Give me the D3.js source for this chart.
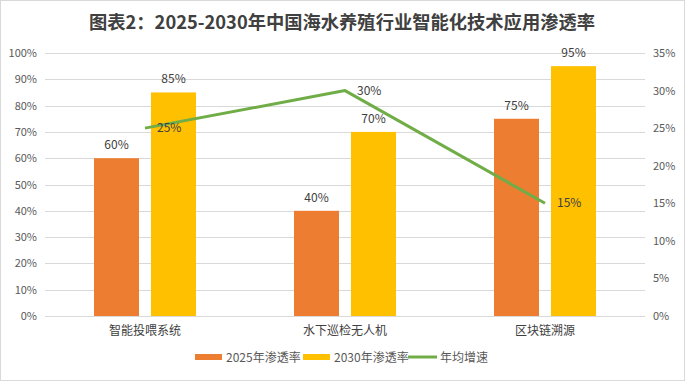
<!DOCTYPE html>
<html><head><meta charset="utf-8">
<script src="https://cdn.jsdelivr.net/npm/d3@7"></script>
<style>body{margin:0;background:#fff;}svg{display:block;font-family:"Noto Sans CJK SC","Microsoft YaHei",sans-serif;}</style>
</head><body>
<svg id="c" width="685" height="381"></svg>
<script>
const categories = ["智能投喂系统", "水下巡检无人机", "区块链溯源"];
const rate2025 = [60, 40, 75];
const rate2030 = [85, 70, 95];
const growth = [25, 30, 15];
const leftTicks = [0,10,20,30,40,50,60,70,80,90,100];
const rightTicks = [0,5,10,15,20,25,30,35];
const seriesNames = ["2025年渗透率", "2030年渗透率", "年均增速"];
const colors = ["#ED7D31", "#FFC000", "#70AD47"];

const svg = d3.select("#c");
svg.append("rect").attr("x",0.5).attr("y",0.5).attr("width",684).attr("height",380)
  .attr("fill","#fff").attr("stroke","#d9d9d9");

svg.append("text").attr("x",342).attr("y",29).attr("text-anchor","middle")
  .attr("font-size",18.3).attr("font-weight","bold").attr("fill","#404040")
  .text("图表2：2025-2030年中国海水养殖行业智能化技术应用渗透率");

const L=45, R=645, T=53, B=316;
const x = d3.scaleBand().domain(categories).range([L,R]);
const yL = d3.scaleLinear().domain([0,100]).range([B,T]);
const yR = d3.scaleLinear().domain([0,35]).range([B,T]);

svg.append("g").selectAll("line").data(leftTicks).join("line")
  .attr("x1",L).attr("x2",R).attr("y1",d=>Math.round(yL(d))+0.5).attr("y2",d=>Math.round(yL(d))+0.5)
  .attr("stroke","#d9d9d9").attr("stroke-width",1);

const axL = svg.append("g").attr("transform",`translate(${L},0)`)
  .call(d3.axisLeft(yL).tickValues(leftTicks).tickFormat(d=>d+"%").tickSize(0).tickPadding(8));
axL.select(".domain").remove();
axL.selectAll("text").attr("font-size",11).attr("fill","#595959").attr("font-family","'Noto Sans CJK SC',sans-serif");

const axR = svg.append("g").attr("transform",`translate(${R},0)`)
  .call(d3.axisRight(yR).tickValues(rightTicks).tickFormat(d=>d+"%").tickSize(0).tickPadding(8));
axR.select(".domain").remove();
axR.selectAll("text").attr("font-size",11).attr("fill","#595959").attr("font-family","'Noto Sans CJK SC',sans-serif");

const axB = svg.append("g").attr("transform",`translate(0,${B})`)
  .call(d3.axisBottom(x).tickSize(0).tickPadding(10));
axB.select(".domain").remove();
axB.selectAll("text").attr("font-size",12).attr("fill","#404040").attr("font-family","'Noto Sans CJK SC',sans-serif");

const barW = 45, gap = 12;
const series = [rate2025, rate2030];
series.forEach((vals,si)=>{
  const g = svg.append("g");
  const xo = d => x(categories[d]) + x.bandwidth()/2 - (barW*2+gap)/2 + si*(barW+gap);
  g.selectAll("rect").data(vals).join("rect")
    .attr("x",(d,i)=>xo(i)).attr("width",barW)
    .attr("y",d=>yL(d)).attr("height",d=>B-yL(d)).attr("fill",colors[si]);
  g.selectAll("text").data(vals).join("text")
    .attr("x",(d,i)=>xo(i)+barW/2).attr("y",d=>yL(d)-9)
    .attr("text-anchor","middle").attr("font-size",12).attr("fill","#404040").text(d=>d+"%");
});

const cx = i => x(categories[i]) + x.bandwidth()/2;
const line = d3.line().x((d,i)=>cx(i)).y(d=>yR(d));
svg.append("path").datum(growth).attr("d",line).attr("fill","none")
  .attr("stroke",colors[2]).attr("stroke-width",3).attr("stroke-linejoin","round");
svg.append("g").selectAll("text").data(growth).join("text")
  .attr("x",(d,i)=>cx(i)+12).attr("y",d=>yR(d)+4)
  .attr("font-size",12).attr("fill","#404040").text(d=>d+"%");

const lg = svg.append("g").attr("font-size",12).attr("fill","#595959");
const items = [{x:195,t:"rect"},{x:303,t:"rect"},{x:408,t:"line"}];
items.forEach((it,i)=>{
  if(it.t==="rect"){
    lg.append("rect").attr("x",it.x).attr("y",354).attr("width",27).attr("height",6).attr("fill",colors[i]);
    lg.append("text").attr("x",it.x+31).attr("y",361.5).attr("fill","#595959").text(seriesNames[i]);
  } else {
    lg.append("line").attr("x1",it.x).attr("x2",it.x+29).attr("y1",357).attr("y2",357)
      .attr("stroke",colors[i]).attr("stroke-width",3);
    lg.append("text").attr("x",it.x+32).attr("y",361.5).attr("fill","#595959").text(seriesNames[i]);
  }
});
</script>
</body></html>
